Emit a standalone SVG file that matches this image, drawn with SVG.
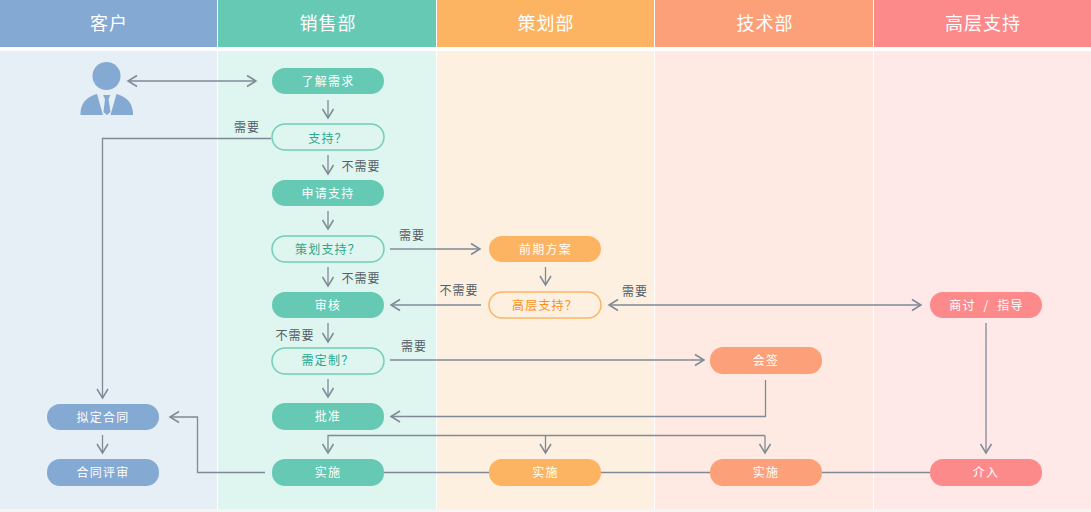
<svg xmlns="http://www.w3.org/2000/svg" width="1091" height="512" viewBox="0 0 1091 512">
<defs>
<marker id="arr" markerUnits="userSpaceOnUse" markerWidth="14" markerHeight="14" refX="11" refY="7" orient="auto-start-reverse"><path d="M2 1.5L11 7L2 12.500" fill="none" stroke="#7f8a96" stroke-width="1.5"/></marker>
</defs>
<style>
text{font-family:"Noto Sans CJK SC","Liberation Sans",sans-serif;text-anchor:middle}
.h{font-size:18px;fill:#fff;letter-spacing:1px}
.n{font-size:12px;fill:#fff;letter-spacing:1.2px}
.q{font-size:12px;letter-spacing:1.2px}
.l{font-size:12px;fill:#555d66;letter-spacing:1px}
.c{fill:none;stroke:#7f8a96;stroke-width:1.3}
.a{marker-end:url(#arr)}
.blue{fill:#84a9d3}.green{fill:#65c9b4}.orange{fill:#fdb462}.coral{fill:#fba078}.pink{fill:#fd8a8a}
.dg{fill:#dff5ef;stroke:#72cdb9;stroke-width:1.5}
.do{fill:#fdf0e0;stroke:#fdb462;stroke-width:1.5}
</style>
<rect width="1091" height="512" fill="#fff"/>
<rect y="509" width="1091" height="3" fill="#f5f5f5"/>
<g id="lanes">
<rect x="0" y="51" width="217" height="458" fill="#e6eef6"/>
<rect x="218" y="51" width="218" height="458" fill="#dff5ef"/>
<rect x="437" y="51" width="217" height="458" fill="#fdf0e0"/>
<rect x="655" y="51" width="218" height="458" fill="#feeae3"/>
<rect x="874" y="51" width="217" height="458" fill="#ffe8e8"/>
<rect x="0" width="217" height="47" class="blue"/>
<rect x="218" width="218" height="47" class="green"/>
<rect x="437" width="217" height="47" class="orange"/>
<rect x="655" width="218" height="47" class="coral"/>
<rect x="874" width="217" height="47" class="pink"/>
<text class="h" x="109" y="30">客户</text>
<text class="h" x="328" y="30">销售部</text>
<text class="h" x="546" y="30">策划部</text>
<text class="h" x="765" y="30">技术部</text>
<text class="h" x="983" y="30">高层支持</text>
</g>
<g id="connectors">
<path class="c" d="M384 472.500H930"/>
<path class="c a" style="marker-start:url(#arr)" d="M128 81H256"/>
<path class="c a" d="M328 100V118"/>
<path class="c a" d="M328 155V174"/>
<path class="c a" d="M328 211V229"/>
<path class="c a" d="M328 267V286"/>
<path class="c a" d="M328 323V342"/>
<path class="c a" d="M328 379V397"/>
<path class="c a" d="M271 138.500H102.500V398"/>
<path class="c a" d="M102.500 435V453"/>
<path class="c a" d="M390 249H480"/>
<path class="c a" d="M545.500 267V285"/>
<path class="c a" d="M481 305H391"/>
<path class="c a" style="marker-start:url(#arr)" d="M609 305H921"/>
<path class="c a" d="M986 323V453"/>
<path class="c a" d="M390 360H704"/>
<path class="c a" d="M765.500 380V416.500H391"/>
<path class="c a" d="M265 472.500H197.500V417H170"/>
<path class="c a" d="M765 435.500H328V453"/>
<path class="c a" d="M545.500 435.500V453"/>
<path class="c a" d="M765 435.500V453"/>
</g>
<g id="customer" class="blue">
<circle cx="106.500" cy="76" r="14"/>
<path d="M80.500 115V113C81 102 88 96.500 97 94L103 115ZM133 115V113C132.500 102 125.500 96.500 116.500 94L110.500 115Z"/>
<path d="M103 95H110.500L108.500 99L110.500 112L106.800 115L103.500 112L105 99Z"/>
</g>
<g id="n1"><rect class="green" x="272" y="68" width="112" height="26" rx="13"/><text class="n" x="328" y="86">了解需求</text></g>
<g id="n2"><rect class="dg" x="272" y="124" width="112" height="26" rx="13"/><text class="q" fill="#2aa78c" x="328" y="143">支持？</text></g>
<g id="n3"><rect class="green" x="272" y="180" width="112" height="26" rx="13"/><text class="n" x="328" y="198">申请支持</text></g>
<g id="n4"><rect class="dg" x="272" y="236" width="112" height="26" rx="13"/><text class="q" fill="#2aa78c" x="328" y="254">策划支持？</text></g>
<g id="n5"><rect class="green" x="272" y="292" width="112" height="26" rx="13"/><text class="n" x="328" y="310">审核</text></g>
<g id="n6"><rect class="dg" x="272" y="348" width="112" height="26" rx="13"/><text class="q" fill="#2aa78c" x="328" y="365">需定制？</text></g>
<g id="n7"><rect class="green" x="272" y="403" width="112" height="27" rx="13"/><text class="n" x="328" y="421">批准</text></g>
<g id="n8"><rect class="green" x="272" y="459" width="112" height="27" rx="13"/><text class="n" x="328" y="477">实施</text></g>
<g id="n9"><rect class="blue" x="47" y="404" width="112" height="26" rx="13"/><text class="n" x="103" y="422">拟定合同</text></g>
<g id="n10"><rect class="blue" x="47" y="459" width="112" height="27" rx="13"/><text class="n" x="103" y="477">合同评审</text></g>
<g id="n11"><rect class="orange" x="489" y="236" width="112" height="26" rx="13"/><text class="n" x="545.500" y="254">前期方案</text></g>
<g id="n12"><rect class="do" x="489" y="292" width="112" height="26" rx="13"/><text class="q" fill="#f98f1d" x="545" y="310">高层支持？</text></g>
<g id="n13"><rect class="orange" x="489" y="459" width="112" height="27" rx="13"/><text class="n" x="545.500" y="477">实施</text></g>
<g id="n14"><rect class="coral" x="710" y="347" width="112" height="27" rx="13"/><text class="n" x="766" y="365">会签</text></g>
<g id="n15"><rect class="coral" x="710" y="459" width="112" height="27" rx="13"/><text class="n" x="766" y="477">实施</text></g>
<g id="n16"><rect class="pink" x="930" y="292" width="112" height="26" rx="13"/><text class="n" word-spacing="4" x="986.500" y="310">商讨 / 指导</text></g>
<g id="n17"><rect class="pink" x="930" y="459" width="112" height="27" rx="13"/><text class="n" x="986" y="477">介入</text></g>
<g id="labels">
<text class="l" x="247" y="132">需要</text>
<text class="l" x="361" y="171">不需要</text>
<text class="l" x="412" y="240">需要</text>
<text class="l" x="361" y="283">不需要</text>
<text class="l" x="459" y="295">不需要</text>
<text class="l" x="635" y="296">需要</text>
<text class="l" x="295" y="340">不需要</text>
<text class="l" x="414" y="351">需要</text>
</g>
</svg>
